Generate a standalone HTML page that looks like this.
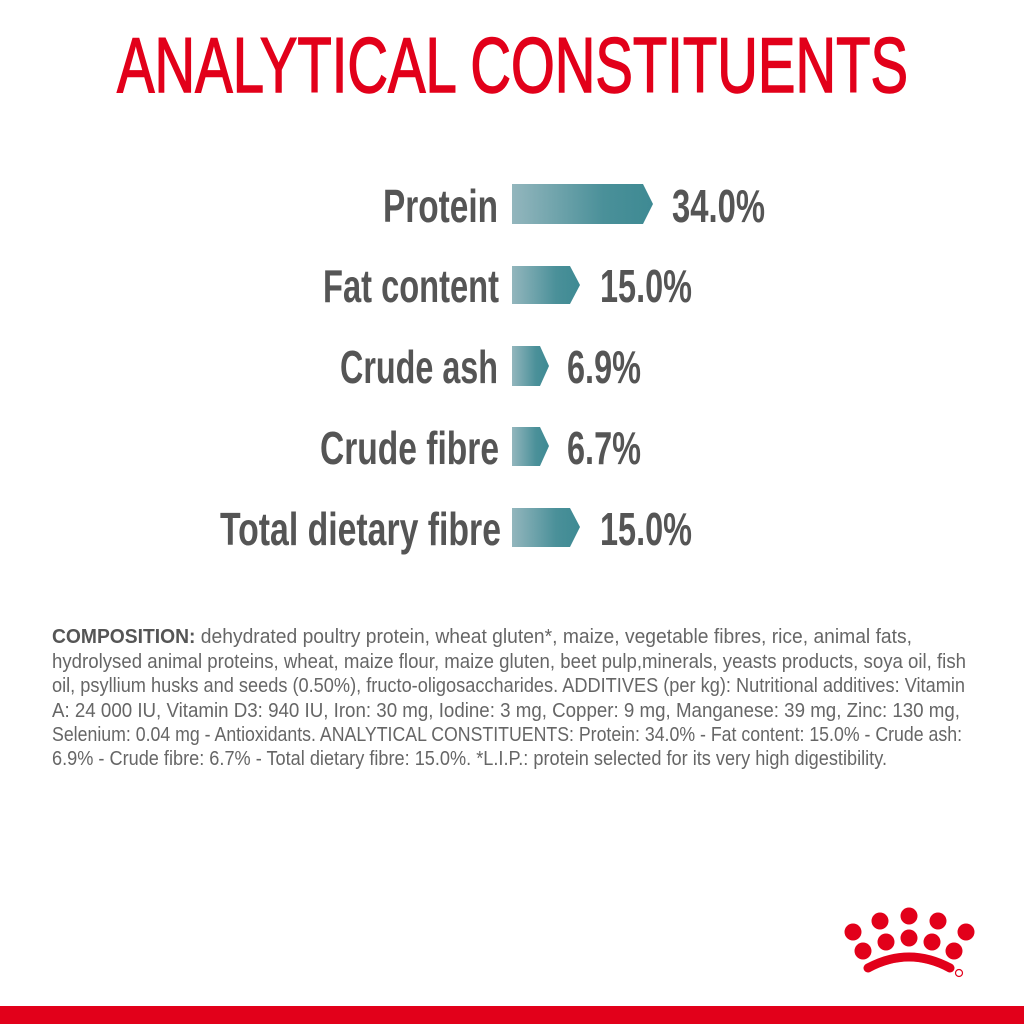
<!DOCTYPE html>
<html><head><meta charset="utf-8"><style>
html,body{margin:0;padding:0;background:#fff;width:1024px;height:1024px;overflow:hidden}
svg{display:block}
text{font-family:"Liberation Sans Narrow","Liberation Sans",sans-serif}
</style></head><body>
<svg width="1024" height="1024" viewBox="0 0 1024 1024" xmlns="http://www.w3.org/2000/svg">
<defs>
<linearGradient id="g" x1="0" x2="1" y1="0" y2="0">
<stop offset="0" stop-color="#93b6bd"/><stop offset="0.65" stop-color="#4a9099"/><stop offset="1" stop-color="#3e8a93"/>
</linearGradient>
</defs>
<rect width="1024" height="1024" fill="#fff"/>
<text x="117" y="92" font-size="78" fill="#e2001a" stroke="#e2001a" stroke-width="1.5" textLength="791" lengthAdjust="spacingAndGlyphs">ANALYTICAL CONSTITUENTS</text>

<g font-size="46" font-weight="bold" fill="#555" >
<text x="383" y="222" textLength="115" lengthAdjust="spacingAndGlyphs">Protein</text>
<text x="323" y="302" textLength="176" lengthAdjust="spacingAndGlyphs">Fat content</text>
<text x="340" y="383" textLength="158" lengthAdjust="spacingAndGlyphs">Crude ash</text>
<text x="320" y="464" textLength="179" lengthAdjust="spacingAndGlyphs">Crude fibre</text>
<text x="220" y="545" textLength="281" lengthAdjust="spacingAndGlyphs">Total dietary fibre</text>
<text x="672" y="222" textLength="93" lengthAdjust="spacingAndGlyphs">34.0%</text>
<text x="600" y="302" textLength="92" lengthAdjust="spacingAndGlyphs">15.0%</text>
<text x="567" y="383" textLength="74" lengthAdjust="spacingAndGlyphs">6.9%</text>
<text x="567" y="464" textLength="74" lengthAdjust="spacingAndGlyphs">6.7%</text>
<text x="600" y="545" textLength="92" lengthAdjust="spacingAndGlyphs">15.0%</text>
</g>
<polygon points="512,184 643,184 653,204 643,224 512,224" fill="url(#g)"/>
<polygon points="512,266 570,266 580,285 570,304 512,304" fill="url(#g)"/>
<polygon points="512,346 540,346 549,366 540,386 512,386" fill="url(#g)"/>
<polygon points="512,427 540,427 549,446 540,466 512,466" fill="url(#g)"/>
<polygon points="512,508 570,508 580,527 570,547 512,547" fill="url(#g)"/>

<g font-size="20" fill="#666">
<text x="52" y="643" textLength="860" lengthAdjust="spacingAndGlyphs"><tspan font-weight="bold" fill="#555">COMPOSITION:</tspan> dehydrated poultry protein, wheat gluten*, maize, vegetable fibres, rice, animal fats,</text>
<text x="52" y="668" textLength="914" lengthAdjust="spacingAndGlyphs">hydrolysed animal proteins, wheat, maize flour, maize gluten, beet pulp,minerals, yeasts products, soya oil, fish</text>
<text x="52" y="692" textLength="913" lengthAdjust="spacingAndGlyphs">oil, psyllium husks and seeds (0.50%), fructo-oligosaccharides. ADDITIVES (per kg): Nutritional additives: Vitamin</text>
<text x="52" y="717" textLength="908" lengthAdjust="spacingAndGlyphs">A:  24 000 IU, Vitamin D3: 940 IU, Iron: 30 mg, Iodine: 3 mg, Copper: 9 mg, Manganese: 39 mg, Zinc: 130 mg,</text>
<text x="52" y="741" textLength="910" lengthAdjust="spacingAndGlyphs">Selenium: 0.04 mg - Antioxidants. ANALYTICAL CONSTITUENTS: Protein: 34.0% - Fat content: 15.0% - Crude ash:</text>
<text x="52" y="765" textLength="835" lengthAdjust="spacingAndGlyphs">6.9% - Crude fibre: 6.7% - Total dietary fibre: 15.0%. *L.I.P.: protein selected for its very high digestibility.</text>
</g>

<g fill="#e2001a">
<circle cx="853" cy="932" r="8.5"/><circle cx="880" cy="921" r="8.5"/><circle cx="909" cy="916" r="8.5"/><circle cx="938" cy="921" r="8.5"/><circle cx="966" cy="932" r="8.5"/>
<circle cx="863" cy="951" r="8.5"/><circle cx="886" cy="942" r="8.5"/><circle cx="909" cy="938" r="8.5"/><circle cx="932" cy="942" r="8.5"/><circle cx="954" cy="951" r="8.5"/>
<path d="M868,968 Q909,946 950,968" stroke="#e2001a" stroke-width="9" fill="none" stroke-linecap="round"/>
<path d="M872,972 Q909,953 946,972" stroke="#fff" stroke-width="1.5" fill="none"/>
<circle cx="959" cy="973" r="3.5" fill="none" stroke="#e2001a" stroke-width="1.2"/>
<rect x="0" y="1006" width="1024" height="18"/>
</g>
</svg>
</body></html>
